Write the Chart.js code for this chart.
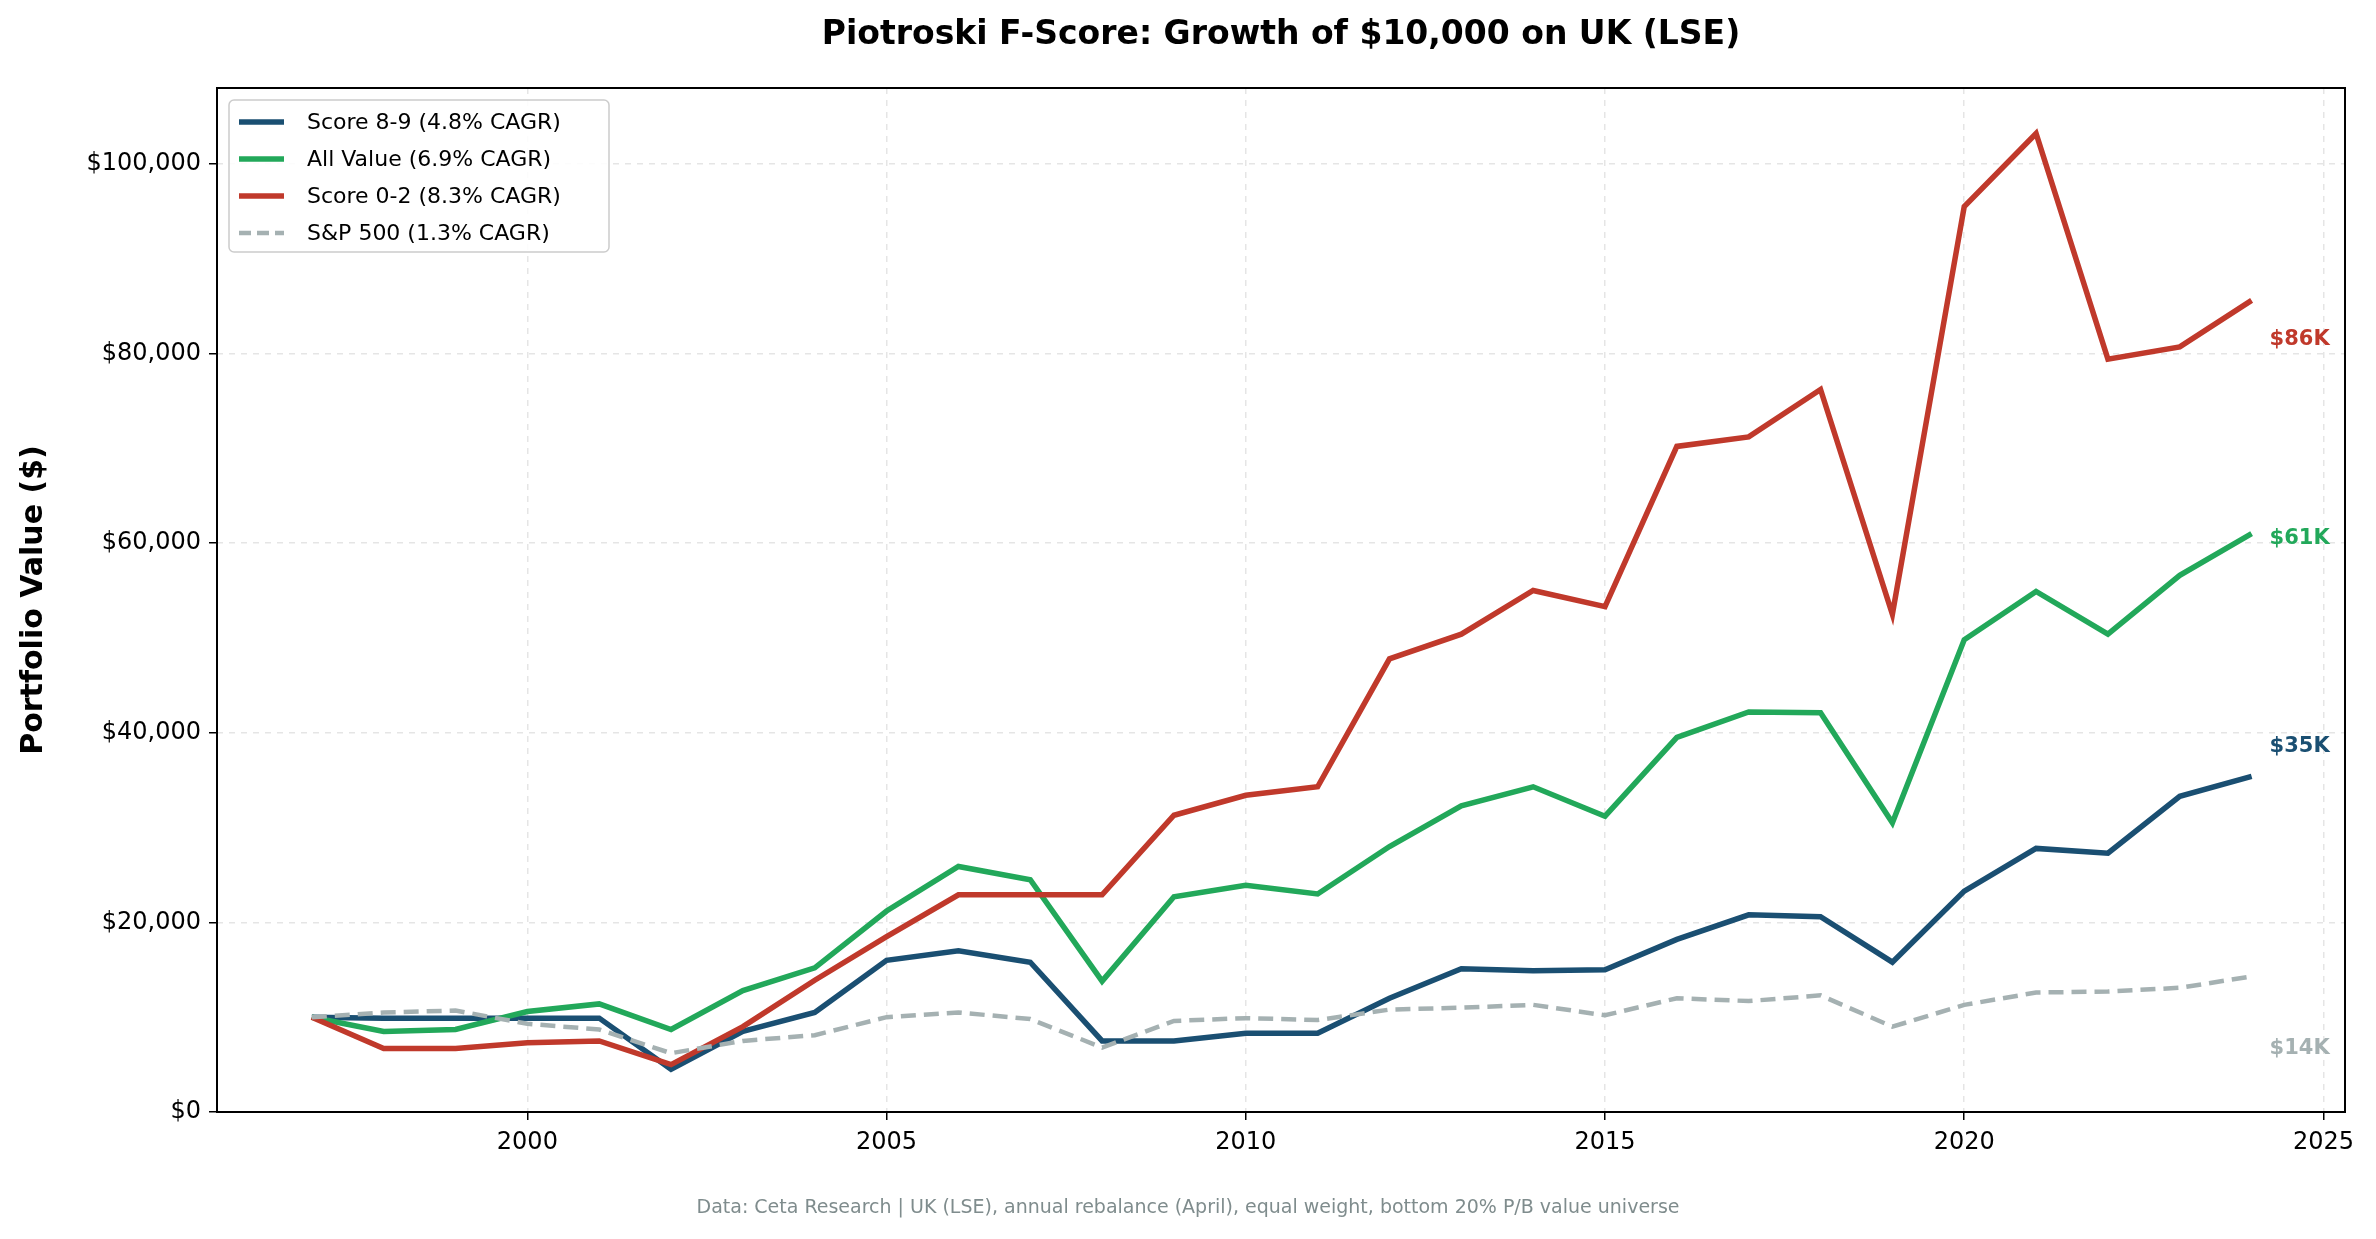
<!DOCTYPE html>
<html><head><meta charset="utf-8">
<script src="https://cdn.jsdelivr.net/npm/chart.js@4"></script>
<style>html,body{margin:0;padding:0;background:#fff}#c{display:block}</style>
</head><body>
<canvas id="c" width="2376" height="1239"></canvas>
<script>
const years=[1997,1998,1999,2000,2001,2002,2003,2004,2005,2006,2007,2008,2009,2010,2011,2012,2013,2014,2015,2016,2017,2018,2019,2020,2021,2022,2023,2024];
const score89=[10000,9900,9900,9900,9900,4500,8500,10500,16000,17000,15800,7500,7500,8300,8300,12000,15100,14900,15000,18200,20800,20600,15800,23300,27800,27300,33300,35400];
const allValue=[10000,8500,8700,10600,11400,8700,12800,15200,21200,25900,24500,13800,22700,23900,23000,28000,32300,34300,31200,39500,42200,42100,30500,49800,54900,50400,56600,61000];
const score02=[10000,6700,6700,7300,7500,5000,9000,13900,18500,22900,22900,22900,31300,33400,34300,47800,50400,55000,53300,70200,71200,76200,52500,95500,103200,79400,80700,85600];
const sp500=[10000,10500,10700,9300,8700,6200,7500,8100,10000,10500,9800,6800,9600,9900,9700,10800,11000,11300,10200,12000,11700,12300,9000,11300,12600,12700,13100,14300];
const seriesLabels=['Score 8-9 (4.8% CAGR)','All Value (6.9% CAGR)','Score 0-2 (8.3% CAGR)','S&P 500 (1.3% CAGR)'];
const endLabels=['$35K','$61K','$86K','$14K'];
const endLabelY=[38500,60500,81500,6700];
const xTicks=[2000,2005,2010,2015,2020,2025];
const yTicks=[0,20000,40000,60000,80000,100000];
const colors=['#1a4f72','#22a85a','#c0392b','#a5b1b2'];
const vals=[score89,allValue,score02,sp500];
const FONT='"DejaVu Sans", sans-serif';

const datasets=vals.map((v,i)=>({label:seriesLabels[i],data:years.map((y,j)=>({x:y,y:v[j]})),borderColor:colors[i],backgroundColor:colors[i],borderWidth:i===3?4.5:5.5,borderDash:i===3?[15,8]:[],pointRadius:0,tension:0,order:3-i}));

const deco={id:'deco',
 afterDraw(ch){
  const c=ch.ctx,a=ch.chartArea,xs=ch.scales.x,ys=ch.scales.y;
  c.save();
  c.strokeStyle='#000';c.lineWidth=2;c.strokeRect(a.left,a.top,a.right-a.left,a.bottom-a.top);
  c.fillStyle='#000';c.font='bold 33px '+FONT;c.textAlign='center';c.textBaseline='middle';
  c.fillText('Piotroski F-Score: Growth of $10,000 on UK (LSE)',(a.left+a.right)/2,35);
  c.fillStyle='#7f8c8d';c.font='19px '+FONT;
  c.fillText('Data: Ceta Research | UK (LSE), annual rebalance (April), equal weight, bottom 20% P/B value universe',1188,1208);
  c.save();c.translate(34,(a.top+a.bottom)/2);c.rotate(-Math.PI/2);c.fillStyle='#000';c.font='bold 30px '+FONT;c.fillText('Portfolio Value ($)',0,0);c.restore();
  c.font='bold 21px '+FONT;c.textAlign='left';
  endLabels.forEach((t,i)=>{c.fillStyle=colors[i];c.fillText(t,xs.getPixelForValue(2024.25),ys.getPixelForValue(endLabelY[i]));});
  const lx=a.left+12,ly=a.top+12,w=380,h=152;
  c.fillStyle='rgba(255,255,255,0.85)';c.strokeStyle='#cccccc';c.lineWidth=1.5;
  c.beginPath();c.roundRect(lx,ly,w,h,5);c.fill();c.stroke();
  c.font='22px '+FONT;c.textAlign='left';
  seriesLabels.forEach((t,i)=>{const yy=ly+22+i*37;c.strokeStyle=colors[i];c.lineWidth=i===3?4.5:5.5;c.setLineDash(i===3?[12,6]:[]);
   c.beginPath();c.moveTo(lx+10,yy);c.lineTo(lx+55,yy);c.stroke();c.setLineDash([]);c.fillStyle='#000';c.fillText(t,lx+78,yy+1);});
  c.restore();
 }};

new Chart(document.getElementById('c'),{type:'line',data:{datasets},
 options:{responsive:false,animation:false,devicePixelRatio:1,
  layout:{padding:{top:88,right:31,left:0,bottom:0}},
  plugins:{legend:{display:false},title:{display:false},tooltip:{enabled:false}},
  scales:{
   x:{type:'linear',min:1995.68,max:2025.3,afterFit(s){s.height=127;},
    afterBuildTicks(s){s.ticks=xTicks.map(v=>({value:v}));},
    ticks:{color:'#000',font:{size:24,family:FONT},padding:8,callback:v=>String(v)},
    grid:{color:'rgba(0,0,0,0.1)',lineWidth:1.5,tickColor:'#000',tickLength:8,drawTicks:true},border:{dash:[6,6],display:false}},
   y:{min:0,max:108000,afterFit(s){s.width=217;},
    afterBuildTicks(s){s.ticks=yTicks.map(v=>({value:v}));},
    ticks:{color:'#000',font:{size:24,family:FONT},padding:8,callback:v=>'$'+v.toLocaleString('en-US')},
    grid:{color:'rgba(0,0,0,0.1)',lineWidth:1.5,tickColor:'#000',tickLength:8},border:{dash:[6,6],display:false}}
  }},
 plugins:[deco]});
</script>
</body></html>
